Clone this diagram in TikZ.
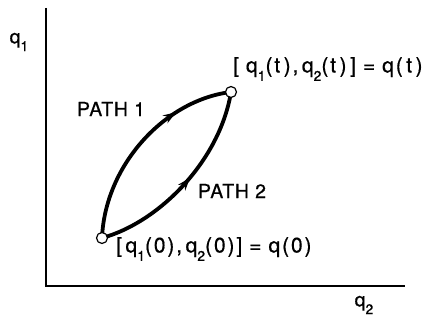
\documentclass[tikz,border=0pt]{standalone}
\usepackage{fontspec}
\setmainfont{TeX Gyre Heros}[LetterSpace=4,FakeBold=0.6]
\usetikzlibrary{decorations.markings,arrows.meta}
\newcommand{\sbs}[1]{\raisebox{-0.4em}{\fontsize{14}{15}\selectfont #1}}
\tikzset{
  axis/.style={line width=1.5pt},
  pathline/.style={line width=3.8pt},
  endpt/.style={circle,draw,line width=1.2pt,fill=white,minimum size=11pt,inner sep=0pt},
  lbl/.style={font=\fontsize{19.5}{22}\selectfont,inner sep=0pt},
  eqlbl/.style={lbl,font=\fontsize{21}{23}\selectfont\addfontfeature{LetterSpace=9}},
  midarrow/.style={postaction={decorate,decoration={markings,mark=at position #1 with {\arrow{Stealth[length=13pt,width=9pt]}}}}}
}
\begin{document}
\begin{tikzpicture}[x=1pt,y=-1pt]
\useasboundingbox (0,0) rectangle (426,321);
\coordinate (top) at (46,8);
\coordinate (orig) at (46,286);
\coordinate (right) at (405,286);
\draw[axis] (top) -- (orig) -- (right);
\node[lbl] (q1) at (19,42) {q\sbs{1}};
\node[lbl] (q2) at (364,305) {q\sbs{2}};
\coordinate (A) at (102,238);
\coordinate (B) at (231,92);
\draw[pathline,midarrow=0.72] (A) .. controls (105,165) and (165,100) .. (B);
\draw[pathline,midarrow=0.53] (A) .. controls (160,222) and (220,160) .. (B);
\node[endpt] (nA) at (A) {};
\node[endpt] (nB) at (B) {};
\node[lbl] (p1) at (111,109) {PATH 1};
\node[lbl] (p2) at (232,191) {PATH 2};
\node[eqlbl,anchor=west] (lt) at (233,69) {[\,\,q\sbs{1}(t\,),\,q\sbs{2}(t\,)\,]\,\,=\,\,q(\,t\,)};
\node[eqlbl,anchor=west] (lb) at (116,249) {[\,q\sbs{1}(0),\,q\sbs{2}(0)]\,\,=\,\,q(0)};
\end{tikzpicture}
\end{document}
